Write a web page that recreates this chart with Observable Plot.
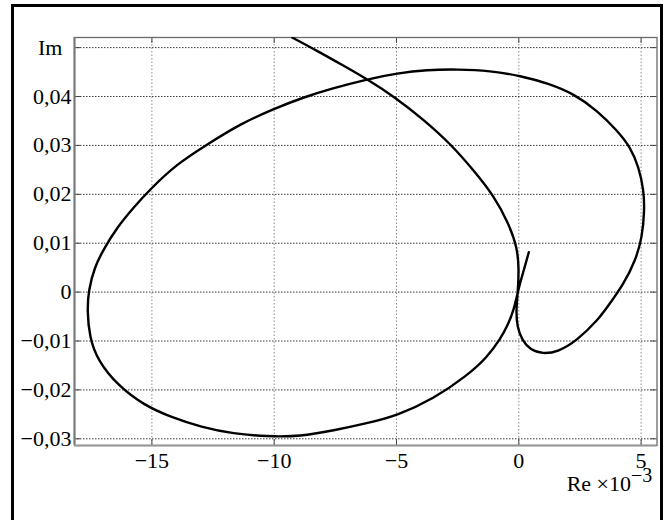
<!DOCTYPE html>
<html>
<head>
<meta charset="utf-8">
<script src="https://cdn.jsdelivr.net/npm/d3@7"></script>
<script src="https://cdn.jsdelivr.net/npm/@observablehq/plot@0.6"></script>
<style>
  html, body { margin: 0; padding: 0; background: #fff; }
  #wrap { position: relative; width: 667px; height: 520px; overflow: hidden; }
  #border { position: absolute; left: 11px; top: 4px; width: 646px; height: 530px; border: 3px solid #000; }
  #chart { position: absolute; left: 0; top: 0; }
</style>
</head>
<body>
<div id="wrap"><div id="border"></div><div id="chart"></div></div>
<script>
// Nyquist locus: real part (×10^-3) and imaginary part, in drawing order
const re = [
  -9.264, -8.242, -7.155, -6.198, -5.041, -3.884, -2.792, -1.840, -1.022, -0.409,
  -0.065, 0.008, -0.041, -0.114, -0.065, 0.139, 0.478, 0.969, 1.570, 2.388,
  3.271, 3.614, 4.293, 4.771, 5.045, 5.139, 5.110, 4.906, 4.567, 4.023,
  3.205, 2.249, 1.214, 0.070, -1.157, -2.518, -3.745, -4.971, -6.198, -7.698,
  -8.790, -10.016, -11.378, -12.809, -13.966, -15.057, -15.740, -16.419, -16.966, -17.347,
  -17.592, -17.645, -17.551, -17.212, -16.394, -15.303, -14.211, -12.985, -11.664, -10.286,
  -8.925, -7.576, -6.198, -4.971, -3.487, -2.110, -1.292, -0.748, -0.462, -0.204,
  0.000, 0.204, 0.409
];
const im = [
  0.05207, 0.04935, 0.04628, 0.04354, 0.03980, 0.03523, 0.03033, 0.02487, 0.01975, 0.01397,
  0.00912, 0.00483, -0.00029, -0.00376, -0.00718, -0.00990, -0.01184, -0.01262, -0.01229, -0.00990,
  -0.00546, -0.00309, 0.00170, 0.00646, 0.01123, 0.01669, 0.02078, 0.02554, 0.02963, 0.03305,
  0.03714, 0.04055, 0.04266, 0.04423, 0.04526, 0.04558, 0.04546, 0.04476, 0.04354, 0.04157,
  0.03986, 0.03748, 0.03442, 0.02998, 0.02624, 0.02112, 0.01736, 0.01327, 0.00885, 0.00509,
  0.00033, -0.00376, -0.00922, -0.01399, -0.01910, -0.02319, -0.02558, -0.02763, -0.02898, -0.02953,
  -0.02953, -0.02830, -0.02681, -0.02524, -0.02182, -0.01706, -0.01331, -0.00955, -0.00683, -0.00376,
  0.00100, 0.00442, 0.00816
];

const xTicks = [-15, -10, -5, 0, 5];
const yTicks = [-0.03, -0.02, -0.01, 0, 0.01, 0.02, 0.03, 0.04, 0.05];
const yLabelTicks = [-0.03, -0.02, -0.01, 0, 0.01, 0.02, 0.03, 0.04];
const xDomain = [-18.164, 5.65];
const yDomain = [-0.03137, 0.05207];

const points = re.map((x, i) => ({x, y: im[i]}));

const font = "'Liberation Serif', 'Times New Roman', serif";
const minus = s => s.replace("-", "\u2212");
const fmtX = d => minus(String(d));
const fmtY = d => d === 0 ? "0" : minus(d.toFixed(2).replace(".", ","));

const W = 667, H = 520, mL = 74, mT = 37, mR = 10.5, mB = 75;
const innerW = W - mL - mR, innerH = H - mT - mB;
const tickLen = 6;

const chart = Plot.plot({
  width: W,
  height: H,
  marginLeft: mL,
  marginTop: mT,
  marginRight: mR,
  marginBottom: mB,
  style: {fontFamily: font, fontSize: "22px", color: "#000", background: "transparent", overflow: "visible"},
  x: {domain: xDomain},
  y: {domain: yDomain},
  marks: [
    Plot.gridX(xTicks, {stroke: "#8a8a8a", strokeOpacity: 1, strokeDasharray: "1.5,2", strokeWidth: 1}),
    Plot.gridY(yTicks, {stroke: "#3a3a3a", strokeOpacity: 1, strokeDasharray: "1.5,1.5", strokeWidth: 1}),
    // inward tick marks on all four sides
    Plot.tickX(xTicks, {x: d => d, stroke: "#444", insetTop: innerH - tickLen}),
    Plot.tickX(xTicks, {x: d => d, stroke: "#444", insetBottom: innerH - tickLen}),
    Plot.tickY(yTicks, {y: d => d, stroke: "#444", insetRight: innerW - tickLen}),
    Plot.tickY(yTicks, {y: d => d, stroke: "#444", insetLeft: innerW - tickLen}),
    Plot.frame({stroke: "#6a6a6a", strokeWidth: 1.3}),
    Plot.ruleX([xDomain[0]], {stroke: "#777", strokeWidth: 2}),
    Plot.ruleY([yDomain[0]], {stroke: "#999", strokeWidth: 2}),
    Plot.axisX(xTicks, {tickSize: 0, tickPadding: 7, tickFormat: fmtX, label: null, fontSize: 22}),
    Plot.axisY(yLabelTicks, {tickSize: 0, tickPadding: 3, tickFormat: fmtY, label: null, fontSize: 22}),
    Plot.line(points, {x: "x", y: "y", stroke: "#000", strokeWidth: 2.4, curve: "basis", clip: true}),
    Plot.text(["Im"], {frameAnchor: "top-left", dx: -12, dy: 10, textAnchor: "end", lineAnchor: "middle", fontSize: 22}),
    Plot.text(["Re \u00d710"], {frameAnchor: "bottom-right", dx: -26, dy: 45, textAnchor: "end", lineAnchor: "bottom", fontSize: 22}),
    Plot.text(["\u22123"], {frameAnchor: "bottom-right", dx: -26, dy: 36, textAnchor: "start", lineAnchor: "bottom", fontSize: 20})
  ]
});

document.getElementById("chart").appendChild(chart);
</script>
</body>
</html>
